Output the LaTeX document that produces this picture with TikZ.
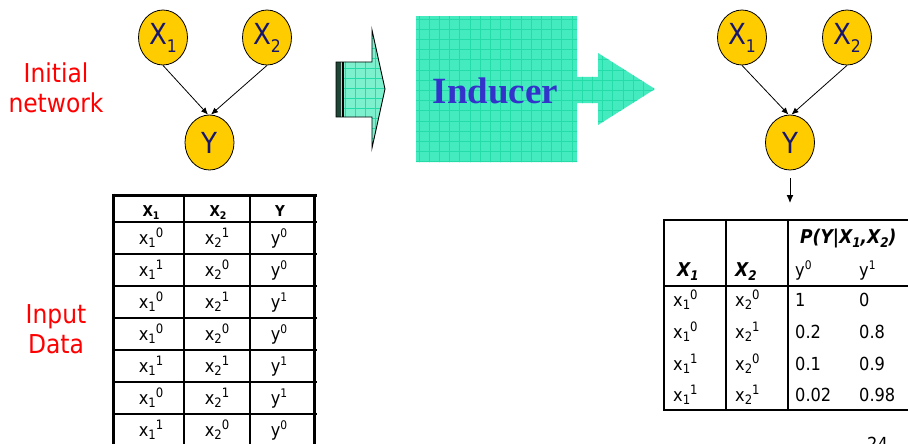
\documentclass[tikz,border=0pt]{standalone}
\usepackage{fontspec}
\setmainfont{DejaVu Sans Condensed}
\newfontfamily\serifface{Liberation Serif}
\usetikzlibrary{arrows.meta,shapes.geometric}

\definecolor{gold}{RGB}{255,204,0}
\definecolor{navy}{RGB}{22,22,110}
\definecolor{mint}{RGB}{68,235,190}
\definecolor{mintgrid}{RGB}{36,220,168}
\definecolor{palemint}{RGB}{125,240,206}
\definecolor{darkstripe}{RGB}{30,70,55}
\definecolor{indblue}{RGB}{51,51,204}

% variable with subscript (node labels)
\newcommand{\vsub}[2]{#1\raisebox{-0.28em}{\scalebox{0.6}{#2}}}
% value x_i^k written as subscript followed by superscript
\newcommand{\xval}[3]{#1\raisebox{-0.18em}{\scalebox{0.72}{#2}}\raisebox{0.36em}{\scalebox{0.72}{#3}}}
\newcommand{\yval}[2]{#1\raisebox{0.36em}{\scalebox{0.66}{#2}}}
\newcommand{\hsub}[2]{#1\raisebox{-0.22em}{\scalebox{0.7}{#2}}}

\begin{document}
\begin{tikzpicture}[x=1pt,y=-1pt,
  var/.style={ellipse, draw=black, line width=0.8pt, fill=gold,
    minimum width=49pt, minimum height=55pt, inner sep=0pt, text=navy,
    font=\fontsize{29}{30}\selectfont},
  edge/.style={-{Latex[length=7pt,width=6pt]}, line width=0.8pt},
  lbl/.style={text=red, font=\fontsize{26}{30}\selectfont, inner sep=0pt},
  cell/.style={font=\fontsize{18}{20}\selectfont, inner sep=0pt, anchor=base},
  hcell/.style={font=\fontsize{15}{17}\selectfont\bfseries, inner sep=0pt, anchor=base},
  rcell/.style={font=\fontsize{18}{20}\selectfont, inner sep=0pt, anchor=base west},
  rhead/.style={font=\fontsize{19}{21}\selectfont\bfseries\itshape, inner sep=0pt, anchor=base west},
  outer/.style={line width=3pt},
  inner/.style={line width=2pt}]
\clip (0,0) rectangle (908,444);
\fill[white] (0,0) rectangle (908,444);

% side labels
\node[lbl, anchor=base] (init1) at (56,83) {Initial};
\node[lbl, anchor=base] (init2) at (56,112) {network};
\node[lbl, anchor=base] (inp1) at (56,323) {Input};
\node[lbl, anchor=base] (inp2) at (56,353) {Data};

% initial network
\node[var] (ax1) at (163,37.5) {\vsub{X}{1}};
\node[var] (ax2) at (267,37.5) {\vsub{X}{2}};
\node[var] (ay)  at (209.5,142.5) {Y};
\draw[edge] (ax1.south) -- ([xshift=-1.5pt]ay.north);
\draw[edge] (ax2.south) -- ([xshift=1.5pt]ay.north);

% small block arrow feeding the inducer
\begin{scope}
  \path[clip] (336,62) -- (372,62) -- (372,30) -- (385,89) -- (372,148)
    -- (372,117) -- (336,117) -- cycle;
  \fill[palemint] (336,25) rectangle (390,150);
  \foreach \i in {0,...,6} \draw[mintgrid, line width=0.7pt] (345+\i*10,25) -- ++(0,125);
  \foreach \j in {0,...,12} \draw[mintgrid, line width=0.7pt] (336,28+\j*10) -- ++(54,0);
\end{scope}
\fill[darkstripe] (336,62) rectangle (340.5,117);
\fill[palemint] (340.5,62) rectangle (342,117);
\fill[black] (342,62) rectangle (344,117);
\draw[line width=0.9pt, line join=miter] (336,62) -- (372,62) -- (372,30) -- (385,89)
  -- (372,148) -- (372,117) -- (336,117) -- cycle;

% inducer block with outgoing arrow
\begin{scope}
  \path[clip] (416,16) -- (577,16) -- (577,77) -- (598,77) -- (598,53) -- (655,89)
    -- (598,125) -- (598,103) -- (577,103) -- (577,162) -- (416,162) -- cycle;
  \fill[mint] (416,16) rectangle (656,163);
  \foreach \i in {0,...,23} \draw[mintgrid, line width=0.8pt] (419+\i*10.2,16) -- ++(0,147);
  \foreach \j in {0,...,14} \draw[mintgrid, line width=0.8pt] (416,19+\j*10.2) -- ++(240,0);
\end{scope}
\node[font=\serifface\bfseries\fontsize{37}{40}\selectfont, text=indblue,
  anchor=base, inner sep=0pt] (ind) at (495.5,103) {Inducer};

% learned network
\node[var] (bx1) at (742,37.5) {\vsub{X}{1}};
\node[var] (bx2) at (847,37.5) {\vsub{X}{2}};
\node[var] (by)  at (790,142.5) {Y};
\draw[edge] (bx1.south) -- ([xshift=-1.5pt]by.north);
\draw[edge] (bx2.south) -- ([xshift=1.5pt]by.north);
\coordinate (cpt) at (790,203);
\draw[-{Latex[length=8pt,width=7pt]}, line width=1pt] ([yshift=-8pt]by.south) -- (cpt);

% input data table
\draw[outer] (113,195) -- (317,195);
\draw[outer] (113,193.5) -- (113,444);
\draw[outer] (314.5,193.5) -- (314.5,444);
\draw[inner] (184,195) -- (184,444);
\draw[inner] (250,195) -- (250,444);
\foreach \r in {0,...,6} \draw[inner] (113,222+\r*32) -- (317,222+\r*32);

\node[hcell] (h1) at (151,216) {\hsub{X}{1}};
\node[hcell] (h2) at (218,216) {\hsub{X}{2}};
\node[hcell] (h3) at (280,216) {Y};

\node[cell] (d11) at (151,244) {\xval{x}{1}{0}};
\node[cell] (d12) at (217,244) {\xval{x}{2}{1}};
\node[cell] (d13) at (279,244) {\yval{y}{0}};
\node[cell] (d21) at (151,276) {\xval{x}{1}{1}};
\node[cell] (d22) at (217,276) {\xval{x}{2}{0}};
\node[cell] (d23) at (279,276) {\yval{y}{0}};
\node[cell] (d31) at (151,308) {\xval{x}{1}{0}};
\node[cell] (d32) at (217,308) {\xval{x}{2}{1}};
\node[cell] (d33) at (279,308) {\yval{y}{1}};
\node[cell] (d41) at (151,340) {\xval{x}{1}{0}};
\node[cell] (d42) at (217,340) {\xval{x}{2}{0}};
\node[cell] (d43) at (279,340) {\yval{y}{0}};
\node[cell] (d51) at (151,372) {\xval{x}{1}{1}};
\node[cell] (d52) at (217,372) {\xval{x}{2}{1}};
\node[cell] (d53) at (279,372) {\yval{y}{1}};
\node[cell] (d61) at (151,404) {\xval{x}{1}{0}};
\node[cell] (d62) at (217,404) {\xval{x}{2}{1}};
\node[cell] (d63) at (279,404) {\yval{y}{1}};
\node[cell] (d71) at (151,436) {\xval{x}{1}{1}};
\node[cell] (d72) at (217,436) {\xval{x}{2}{0}};
\node[cell] (d73) at (279,436) {\yval{y}{0}};

% conditional probability table
\draw[inner] (663,220) -- (908,220);
\draw[inner] (663,286) -- (908,286);
\draw[inner] (663,410) -- (908,410);
\draw[inner] (664,219) -- (664,411);
\draw[inner] (726,219) -- (726,411);
\draw[inner] (788,219) -- (788,411);

\node[rhead] (cp) at (800,243) {P(Y|\hsub{X}{1},\hsub{X}{2})};
\node[rhead] (cx1) at (677,276) {\hsub{X}{1}};
\node[rhead] (cx2) at (735,276) {\hsub{X}{2}};
\node[rcell] (cy0) at (795,276) {\yval{y}{0}};
\node[rcell] (cy1) at (859,276) {\yval{y}{1}};

\node[rcell] (e11) at (673,306) {\xval{x}{1}{0}};
\node[rcell] (e12) at (735,306) {\xval{x}{2}{0}};
\node[rcell] (e13) at (795,306) {1};
\node[rcell] (e14) at (859,306) {0};
\node[rcell] (e21) at (673,338) {\xval{x}{1}{0}};
\node[rcell] (e22) at (735,338) {\xval{x}{2}{1}};
\node[rcell] (e23) at (795,338) {0.2};
\node[rcell] (e24) at (859,338) {0.8};
\node[rcell] (e31) at (673,370) {\xval{x}{1}{1}};
\node[rcell] (e32) at (735,370) {\xval{x}{2}{0}};
\node[rcell] (e33) at (795,370) {0.1};
\node[rcell] (e34) at (859,370) {0.9};
\node[rcell] (e41) at (673,401) {\xval{x}{1}{1}};
\node[rcell] (e42) at (735,401) {\xval{x}{2}{1}};
\node[rcell] (e43) at (795,401) {0.02};
\node[rcell] (e44) at (859,401) {0.98};

% page number
\node[rcell] (pg) at (867,450) {24};
\end{tikzpicture}
\end{document}
